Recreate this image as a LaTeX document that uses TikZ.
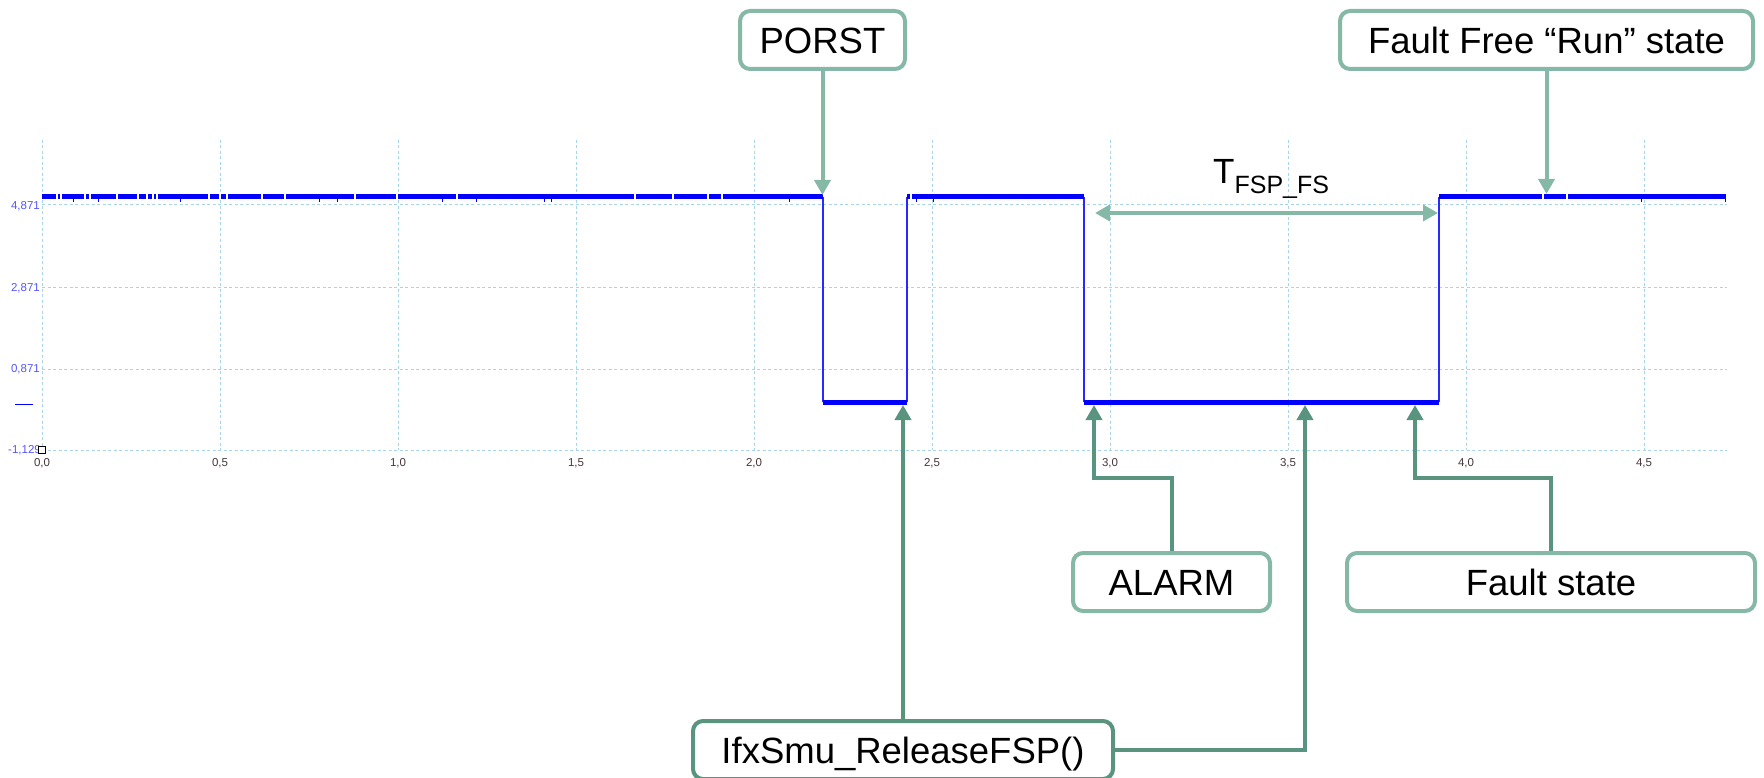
\documentclass[tikz,border=0pt]{standalone}
\usepackage{fontspec}
\setmainfont{Liberation Sans}
\usetikzlibrary{arrows.meta}
\definecolor{boxlight}{RGB}{134,184,166}
\definecolor{boxdark}{RGB}{88,148,126}
\definecolor{gridc}{RGB}{168,214,232}
\definecolor{sigc}{RGB}{0,0,255}
\definecolor{sigthinc}{RGB}{40,40,255}
\definecolor{ylab}{RGB}{85,85,255}
\definecolor{xlab}{RGB}{70,55,55}
\pgfdeclarelayer{bg}
\pgfdeclarelayer{mid}
\pgfsetlayers{bg,mid,main}
\begin{document}
\begin{tikzpicture}[x=1pt,y=-1pt,
  box/.style={draw=boxlight, line width=4pt, rounded corners=10pt, fill=white,
    inner sep=0pt, text=black, font=\fontsize{36.5}{40}\selectfont,
    text height=26.1pt, text depth=0pt, align=center},
  darkbox/.style={box, draw=boxdark},
  lightconn/.style={boxlight, line width=4pt, -{Triangle[length=15pt,width=16pt]}},
  darkconn/.style={boxdark, line width=4pt, -{Triangle[length=15pt,width=16pt]}},
  gridline/.style={gridc, line width=1pt, dash pattern=on 3pt off 2.5pt},
  sigthick/.style={sigc, line width=5pt},
  sigthin/.style={sigthinc, line width=1.4pt},
  gapline/.style={white, line width=1.2pt},
  tickline/.style={sigc, line width=1pt},
  ylabel/.style={anchor=east, inner sep=0pt, text=ylab, font=\fontsize{11.5}{13}\selectfont},
  xlabel/.style={anchor=center, inner sep=0pt, text=xlab, font=\fontsize{11.5}{13}\selectfont}
]
\useasboundingbox (0,0) rectangle (1764,778);

% ---------- grid, axes and signal ----------
\begin{pgfonlayer}{bg}
  \foreach \k in {0,...,9} {
    \draw[gridline] (42+178*\k,140) -- (42+178*\k,450);
  }
  \foreach \yy in {205,287,369,450} {
    \draw[gridline] (42,\yy) -- (1727,\yy);
  }
  \node[ylabel] (y1) at (40,206) {4,871};
  \node[ylabel] (y2) at (40,288) {2,871};
  \node[ylabel] (y3) at (40,369) {0,871};
  \node[ylabel] (y4) at (41,450) {-1,129};
  \draw[sigc, line width=1pt] (15,404) -- (33,404);
  \draw[black, line width=1pt, fill=white] (38.5,446.5) rectangle (45.5,453.5);
  \node[xlabel] (x0) at (42,463) {0,0};
  \node[xlabel] (x1) at (220,463) {0,5};
  \node[xlabel] (x2) at (398,463) {1,0};
  \node[xlabel] (x3) at (576,463) {1,5};
  \node[xlabel] (x4) at (754,463) {2,0};
  \node[xlabel] (x5) at (932,463) {2,5};
  \node[xlabel] (x6) at (1110,463) {3,0};
  \node[xlabel] (x7) at (1288,463) {3,5};
  \node[xlabel] (x8) at (1466,463) {4,0};
  \node[xlabel] (x9) at (1644,463) {4,5};

  % signal
  \draw[sigthin] (823,197) -- (823,402);
  \draw[sigthin] (907,402) -- (907,197);
  \draw[sigthin] (1084,197) -- (1084,402);
  \draw[sigthin] (1439,402) -- (1439,197);
  \draw[sigthick] (42,197) -- (823,197);
  \draw[sigthick] (823,402) -- (907,402);
  \draw[sigthick] (907,197) -- (1084,197);
  \draw[sigthick] (1084,402) -- (1439,402);
  \draw[sigthick] (1439,197) -- (1726,197);
  \foreach \gx in {57,61,85,90,117,138,147,153,157,209,220,227,262,285,355,397,457,635,673,708,722,911,1543,1567} {
    \draw[gapline] (\gx,194.5) -- (\gx,199.5);
  }
  \foreach \tx in {73,98,180,319,337,442,476,544,551,789,916,933,1641,1725} {
    \draw[tickline] (\tx,197) -- (\tx,202);
  }
\end{pgfonlayer}

% ---------- boxes ----------
\node[box, minimum width=165pt, minimum height=58pt] (porst) at (822.5,40) {PORST};
\node[box, minimum width=413pt, minimum height=58pt] (ffree) at (1546.5,40) {Fault Free “Run” state};
\node[box, minimum width=197pt, minimum height=58pt] (alarm) at (1171.5,582) {ALARM};
\node[box, minimum width=408pt, minimum height=58pt] (fstate) at (1551,582) {Fault state};
\node[darkbox, minimum width=420pt, minimum height=58pt] (ifx) at (903,750) {IfxSmu\_ReleaseFSP()};

\node[anchor=base west, inner sep=0pt, font=\fontsize{35}{38}\selectfont] (tfsp) at (1213,183.5)
  {T\raisebox{-9.5pt}{\fontsize{25}{27}\selectfont FSP\_FS}};

% ---------- coordinates on the signal ----------
\coordinate (porsttip) at (822.5,195);
\coordinate (fftip) at (1546.5,194);
\coordinate (alarmknee) at (1094,478);
\coordinate (alarmtip) at (1094,405);
\coordinate (fsknee) at (1415,478);
\coordinate (fstip) at (1415,405);
\coordinate (ifxtipA) at (903,405);
\coordinate (ifxtipB) at (1305,405);
\coordinate (tleft) at (1095,213);
\coordinate (tright) at (1438,213);

% ---------- connectors ----------
\begin{pgfonlayer}{mid}
  \draw[lightconn] (porst.south) -- (porsttip);
  \draw[lightconn] (ffree.south) -- (fftip);
  \draw[darkconn] (alarm.north) |- (alarmknee) -- (alarmtip);
  \draw[darkconn] (fstate.north) |- (fsknee) -- (fstip);
  \draw[darkconn] (ifx.north) -- (ifxtipA);
  \draw[darkconn] (ifx.east) -| (ifxtipB);
  \draw[boxlight, line width=4pt, {Triangle[length=15pt,width=16pt]}-{Triangle[length=15pt,width=16pt]}] (tleft) -- (tright);
\end{pgfonlayer}
\end{tikzpicture}
\end{document}
